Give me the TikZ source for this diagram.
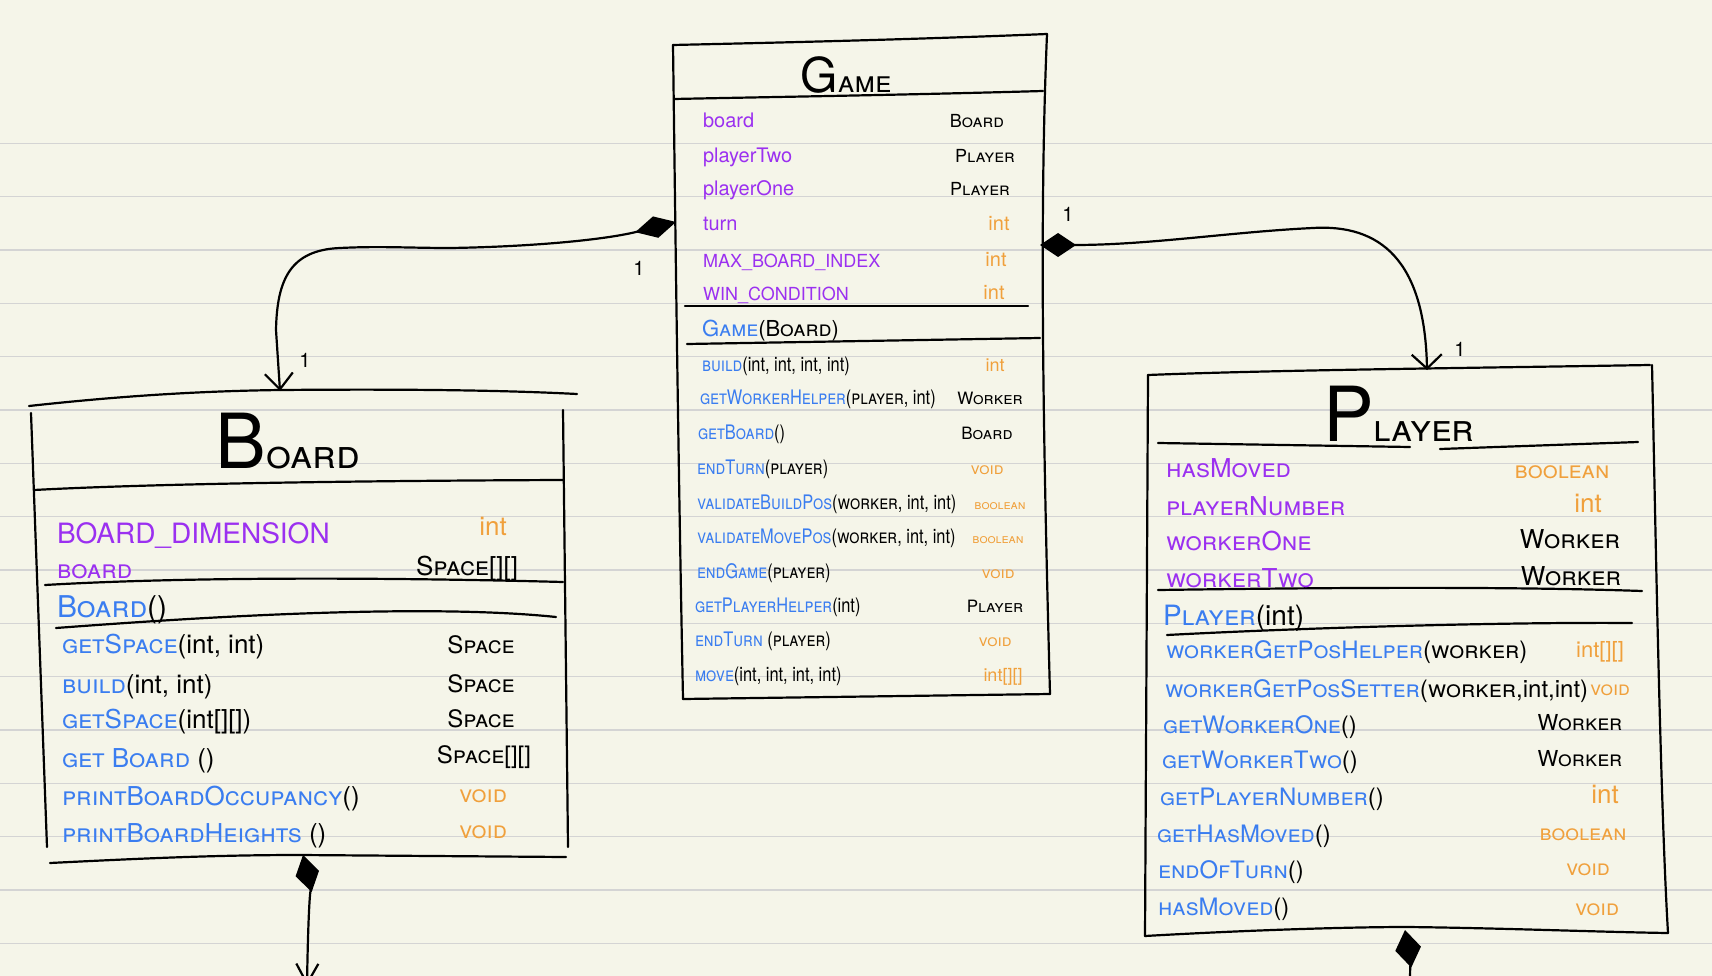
\documentclass[tikz,border=0pt]{standalone}
\usepackage{fontspec}
\newfontfamily\hand{TeX Gyre Heros}
\newfontfamily\handn[FakeStretch=0.82]{TeX Gyre Heros}
\usetikzlibrary{arrows.meta}
\definecolor{bg}{HTML}{F5F5E9}
\definecolor{rulecol}{HTML}{D4D4D4}
\definecolor{pur}{HTML}{9B30F0}
\definecolor{blu}{HTML}{3A7DF0}
\definecolor{ora}{HTML}{F0A03C}
\newcommand\fsz[1]{\fontsize{#1}{#1}\selectfont}
\newcommand\mth[1]{\textcolor{blu}{\textsc{#1}}}
\begin{document}
\begin{tikzpicture}[x=1pt,y=-1pt,
  box/.style={line width=2.2pt, line cap=round, line join=round},
  conn/.style={line width=2.2pt, line cap=round, line join=round},
  tt/.style={inner sep=0pt, outer sep=0pt, anchor=base, font=\hand},
  nm/.style={inner sep=0pt, outer sep=0pt, anchor=base west},
  ty/.style={inner sep=0pt, outer sep=0pt, anchor=base},
  gattr/.style={nm, font=\hand\fsz{20}, text=pur},
  gtype/.style={ty, font=\hand\fsz{18}},
  gm/.style={nm, font=\handn\fsz{20}},
  bm/.style={nm, font=\hand\fsz{26}},
  btype/.style={ty, font=\hand\fsz{24}},
  pattr/.style={nm, font=\hand\fsz{26}, text=pur},
  ptype/.style={ty, font=\hand\fsz{24}},
  pm/.style={nm, font=\hand\fsz{24}},
  lbl/.style={inner sep=0pt, font=\hand\fsz{20}}
]
\useasboundingbox (0,0) rectangle (1712,976);
\clip (0,0) rectangle (1712,976);
\fill[bg] (0,0) rectangle (1712,976);
\foreach \k in {0,...,15}{
  \draw[rulecol, line width=1.6pt] (0,143.33+53.333*\k) -- (1712,143.33+53.333*\k);
}

% ---------------- Game box ----------------
\draw[box] (673,45) .. controls (760,43) and (900,40) .. (1047,34);
\draw[box] (673,45) .. controls (675,200) and (678,450) .. (683,699);
\draw[box] (1047,34) .. controls (1040,200) and (1042,400) .. (1050,694);
\draw[box] (683,699) -- (1050,694);
\draw[box] (674,99) .. controls (770,97) and (903,95) .. (1043,91);
\draw[box] (685,306) -- (1028,306);
\draw[box] (687,344) -- (1040,338);

\node[tt] (gameT) at (846,93) {{\fsz{48}G}{\fsz{30}\scshape ame}};
\node[gattr] (ga1) at (703,128) {board};
\node[gattr] (ga2) at (703,163) {playerTwo};
\node[gattr] (ga3) at (703,196) {playerOne};
\node[gattr] (ga4) at (703,231) {turn};
\node[gattr, font=\hand\fsz{18}] (ga5) at (703,267) {MAX\_BOARD\_INDEX};
\node[gattr, font=\hand\fsz{18}] (ga6) at (703,300) {WIN\_CONDITION};
\node[gtype] (gt1) at (977,128) {\textsc{Board}};
\node[gtype] (gt2) at (985,163) {\textsc{Player}};
\node[gtype] (gt3) at (980,196) {\textsc{Player}};
\node[gtype, text=ora, font=\hand\fsz{20}] (gt4) at (999,231) {int};
\node[gtype, text=ora, font=\hand\fsz{20}] (gt5) at (996,266) {int};
\node[gtype, text=ora, font=\hand\fsz{20}] (gt6) at (994,299) {int};
\node[nm, font=\hand\fsz{22}] (gc) at (702,336) {\mth{Game}(\textsc{Board})};

\node[gm] (gm1) at (702,371) {\mth{build}(int, int, int, int)};
\node[gm] (gm2) at (700,404) {\mth{getWorkerHelper}(\textsc{player}, int)};
\node[gm] (gm3) at (698,439) {\mth{getBoard}()};
\node[gm] (gm4) at (697,474) {\mth{endTurn}(\textsc{player})};
\node[gm] (gm5) at (697,509) {\mth{validateBuildPos}(\textsc{worker}, int, int)};
\node[gm] (gm6) at (697,543) {\mth{validateMovePos}(\textsc{worker}, int, int)};
\node[gm] (gm7) at (697,578) {\mth{endGame}(\textsc{player})};
\node[gm] (gm8) at (695,612) {\mth{getPlayerHelper}(int)};
\node[gm] (gm9) at (695,646) {\mth{endTurn} (\textsc{player})};
\node[gm] (gm10) at (695,681) {\mth{move}(int, int, int, int)};
\node[gtype, text=ora, font=\hand\fsz{18}] (gr1) at (995,371) {int};
\node[gtype, font=\hand\fsz{17}] (gr2) at (990,404) {\textsc{Worker}};
\node[gtype, font=\hand\fsz{17}] (gr3) at (987,439) {\textsc{Board}};
\node[gtype, text=ora, font=\hand\fsz{16.5}] (gr4) at (987,474) {\textsc{void}};
\node[gtype, text=ora, font=\hand\fsz{13}] (gr5) at (1000,509) {\textsc{boolean}};
\node[gtype, text=ora, font=\hand\fsz{13}] (gr6) at (998,543) {\textsc{boolean}};
\node[gtype, text=ora, font=\hand\fsz{16.5}] (gr7) at (998,578) {\textsc{void}};
\node[gtype, font=\hand\fsz{17}] (gr8) at (995,612) {\textsc{Player}};
\node[gtype, text=ora, font=\hand\fsz{16.5}] (gr9) at (995,646) {\textsc{void}};
\node[gtype, text=ora, font=\hand\fsz{18}] (gr10) at (1003,681) {int[][]};

% ---------------- Board box ----------------
\draw[box] (29,406) .. controls (120,396) and (200,391) .. (281,390) .. controls (400,389) and (500,390) .. (577,394);
\draw[box] (31,413) -- (47,847);
\draw[box] (563,410) -- (568,847);
\draw[box] (50,863) .. controls (150,858) and (220,855) .. (300,855) -- (566,857);
\draw[box] (34,490) .. controls (127,485) and (300,481) .. (563,480);
\draw[box] (45,585) .. controls (199,576) and (413,578) .. (563,582);
\draw[box] (56,628) .. controls (163,620) and (413,602) .. (556,617);

\node[tt] (boardT) at (288,468) {{\fsz{76}B}{\fsz{40}\scshape oard}};
\node[nm, font=\hand\fsz{28}, text=pur] (ba1) at (57,543) {BOARD\_DIMENSION};
\node[ty, font=\hand\fsz{26}, text=ora] (bt1) at (493,535) {int};
\node[nm, font=\hand\fsz{26}, text=pur] (ba2) at (57,578) {\textsc{board}};
\node[ty, font=\hand\fsz{26}] (bt2) at (467,575) {\textsc{Space}[][]};
\node[nm, font=\hand\fsz{30}] (bc) at (57,617) {\mth{Board}()};
\node[bm] (bm1) at (62,653) {\mth{getSpace}(int, int)};
\node[bm] (bm2) at (62,693) {\mth{build}(int, int)};
\node[bm] (bm3) at (62,728) {\mth{getSpace}(int[][])};
\node[bm] (bm4) at (62,767) {\mth{get Board} ()};
\node[bm] (bm5) at (62,805) {\mth{printBoardOccupancy}()};
\node[bm] (bm6) at (62,842) {\mth{printBoardHeights} ()};
\node[btype] (br1) at (481,653) {\textsc{Space}};
\node[btype] (br2) at (481,692) {\textsc{Space}};
\node[btype] (br3) at (481,727) {\textsc{Space}};
\node[btype] (br4) at (484,763) {\textsc{Space}[][]};
\node[btype, text=ora] (br5) at (483,802) {\textsc{void}};
\node[btype, text=ora] (br6) at (483,838) {\textsc{void}};

% ---------------- Player box ----------------
\draw[box] (1148,375) .. controls (1273,370) and (1473,368) .. (1650,365);
\draw[box] (1148,375) -- (1145,936);
\draw[box] (1652,365) .. controls (1655,500) and (1660,800) .. (1668,933);
\draw[box] (1145,936) .. controls (1250,930) and (1350,927) .. (1407,927) .. controls (1500,928) and (1600,932) .. (1668,933);
\draw[box] (1158,443) -- (1410,447);
\draw[box] (1440,449) -- (1638,442);
\draw[box] (1158,590) .. controls (1300,588) and (1500,586) .. (1642,591);
\draw[box] (1167,635) .. controls (1300,628) and (1500,622) .. (1632,623);

\node[tt] (playerT) at (1399,441) {{\fsz{76}P}{\fsz{38}\scshape layer}};
\node[pattr] (pa1) at (1166,477) {\textsc{hasMoved}};
\node[pattr] (pa2) at (1166,515) {\textsc{playerNumber}};
\node[pattr] (pa3) at (1166,550) {\textsc{workerOne}};
\node[pattr] (pa4) at (1166,587) {\textsc{workerTwo}};
\node[ptype, text=ora] (pt1) at (1562,478) {\textsc{boolean}};
\node[ptype, text=ora, font=\hand\fsz{26}] (pt2) at (1588,512) {int};
\node[ptype, font=\hand\fsz{26}] (pt3) at (1570,548) {\textsc{Worker}};
\node[ptype, font=\hand\fsz{26}] (pt4) at (1571,585) {\textsc{Worker}};
\node[pm, font=\hand\fsz{28}] (pc) at (1163,625) {\mth{Player}(int)};
\node[pm] (pm1) at (1166,658) {\mth{workerGetPosHelper}(\textsc{worker})};
\node[pm] (pm2) at (1165,697) {\mth{workerGetPosSetter}(\textsc{worker},int,int)};
\node[pm] (pm3) at (1163,733) {\mth{getWorkerOne}()};
\node[pm] (pm4) at (1162,768) {\mth{getWorkerTwo}()};
\node[pm] (pm5) at (1160,805) {\mth{getPlayerNumber}()};
\node[pm] (pm6) at (1157,842) {\mth{getHasMoved}()};
\node[pm] (pm7) at (1158,878) {\mth{endOfTurn}()};
\node[pm] (pm8) at (1158,915) {\mth{hasMoved}()};
\node[ptype, text=ora, font=\hand\fsz{22}] (pr1) at (1600,657) {int[][]};
\node[ptype, text=ora, font=\hand\fsz{20}] (pr2) at (1610,695) {\textsc{void}};
\node[ptype, font=\hand\fsz{22}] (pr3) at (1580,730) {\textsc{Worker}};
\node[ptype, font=\hand\fsz{22}] (pr4) at (1580,766) {\textsc{Worker}};
\node[ptype, text=ora, font=\hand\fsz{26}] (pr5) at (1605,803) {int};
\node[ptype, text=ora, font=\hand\fsz{22}] (pr6) at (1583,840) {\textsc{boolean}};
\node[ptype, text=ora, font=\hand\fsz{22}] (pr7) at (1588,875) {\textsc{void}};
\node[ptype, text=ora, font=\hand\fsz{22}] (pr8) at (1597,915) {\textsc{void}};

% ---------------- connectors ----------------
\coordinate (gW) at (676,222);
\coordinate (bN) at (280,391);
\coordinate (gE) at (1040,245);
\coordinate (pN) at (1427,370);
\coordinate (bS) at (303,855);
\coordinate (bOut) at (307,986);
\coordinate (pS) at (1405,930);
\coordinate (pOut) at (1410,995);

\draw[conn, {Diamond[length=42pt,width=22pt]}-{Straight Barb[length=16pt,width=28pt]}]
  (gW) .. controls (600,241) and (520,247) .. (450,248)
       .. controls (410,248) and (380,246) .. (340,248)
       .. controls (290,250) and (277,280) .. (276,330) -- (bN);
\draw[conn, {Diamond[length=36pt,width=24pt]}-{Straight Barb[length=14pt,width=30pt]}]
  (gE) .. controls (1150,245) and (1230,232) .. (1313,228)
       .. controls (1380,224) and (1425,260) .. (pN);
\draw[conn, {Diamond[length=38pt,width=24pt]}-{Straight Barb[length=20pt,width=22pt]}]
  (bS) .. controls (310,885) and (308,920) .. (bOut);
\draw[conn, {Diamond[length=38pt,width=26pt]}-]
  (pS) .. controls (1410,960) and (1410,975) .. (pOut);

\node[lbl] (m1) at (639,268) {1};
\node[lbl] (m2) at (305,360) {1};
\node[lbl] (m3) at (1068,214) {1};
\node[lbl] (m4) at (1460,349) {1};
\end{tikzpicture}
\end{document}
